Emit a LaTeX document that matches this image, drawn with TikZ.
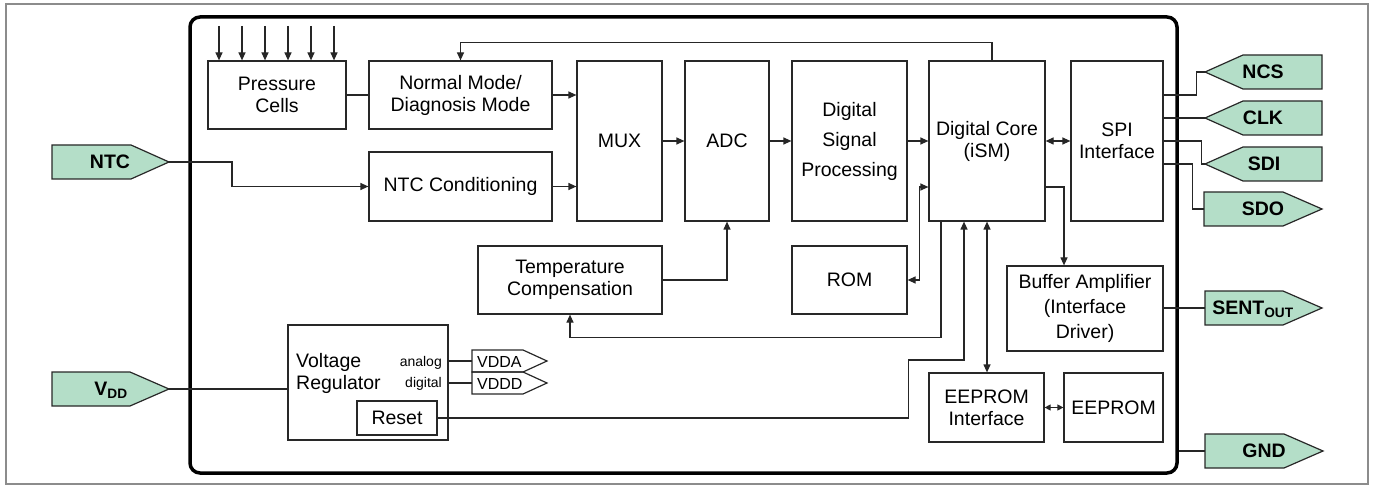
\documentclass[tikz,border=0pt]{standalone}
\usepackage{fontspec}
\setmainfont{Liberation Sans}
\usetikzlibrary{arrows.meta,calc}
\definecolor{pinfill}{RGB}{180,222,200}
\definecolor{boxline}{RGB}{40,40,40}
\definecolor{framegray}{RGB}{140,140,140}
\begin{document}
\begin{tikzpicture}[x=1pt,y=-1pt,
  blk/.style={draw=boxline,line width=1.2pt,inner sep=0pt,align=center,font=\fontsize{19.5}{22}\selectfont},
  conn/.style={line width=1.2pt,draw=black!85},
  arr/.style={conn,-{Triangle[length=8pt,width=7pt]}},
  darr/.style={conn,{Triangle[length=8pt,width=7pt]}-{Triangle[length=8pt,width=7pt]}},
  sdarr/.style={conn,{Triangle[length=6pt,width=6pt]}-{Triangle[length=6pt,width=6pt]}},
  pinshape/.style={draw=boxline,fill=pinfill,line width=1.2pt,line join=miter},
  vshape/.style={draw=boxline,line width=1.2pt,line join=miter},
  pinlbl/.style={font=\bfseries\fontsize{19.5}{22}\selectfont,inner sep=0pt},
  small/.style={font=\fontsize{14}{16}\selectfont,inner sep=0pt},
  txt/.style={font=\fontsize{19.5}{22}\selectfont,inner sep=0pt},
]
\useasboundingbox (0,0) rectangle (1375,486);
\draw[framegray,line width=1.5pt] (6,4) rectangle (1368,484);
\node[draw=black,line width=3.5pt,rounded corners=10pt,minimum width=987pt,minimum height=456pt,inner sep=0pt] (chip) at (683.5,245) {};

% blocks
\node[blk,minimum width=138pt,minimum height=68pt] (press) at (277,95) {Pressure\\Cells};
\node[blk,minimum width=183pt,minimum height=68pt] (normal) at (460.5,95) {Normal Mode/\\Diagnosis Mode};
\node[blk,minimum width=183pt,minimum height=69pt] (ntcc) at (460.5,186.5) {NTC Conditioning};
\node[blk,minimum width=85pt,minimum height=160pt] (mux) at (619.5,141) {MUX};
\node[blk,minimum width=84pt,minimum height=160pt] (adc) at (727,141) {ADC};
\node[blk,minimum width=115pt,minimum height=160pt,font=\fontsize{19.5}{30}\selectfont] (dsp) at (849.5,141) {Digital\\Signal\\Processing};
\node[blk,minimum width=116pt,minimum height=160pt] (core) at (987,141) {Digital Core\\(iSM)};
\node[blk,minimum width=92pt,minimum height=160pt] (spi) at (1117,141) {SPI\\Interface};
\node[blk,minimum width=184pt,minimum height=68pt] (temp) at (570,280) {Temperature\\Compensation};
\node[blk,minimum width=115pt,minimum height=68pt] (rom) at (849.5,280) {ROM};
\node[blk,minimum width=156pt,minimum height=85pt,font=\fontsize{19.5}{25}\selectfont] (buf) at (1085,308.5) {Buffer Amplifier\\(Interface\\Driver)};
\node[blk,minimum width=115pt,minimum height=69pt] (eei) at (986.5,407.5) {EEPROM\\Interface};
\node[blk,minimum width=99pt,minimum height=69pt] (eep) at (1113.5,407.5) {EEPROM};
\node[blk,minimum width=160pt,minimum height=115pt] (vreg) at (368,382.5) {};
\node[blk,minimum width=80pt,minimum height=34pt] (reset) at (397,418) {Reset};
\node[txt,anchor=base west] (vt1) at (296,367) {Voltage};
\node[txt,anchor=base west] (vt2) at (296,389) {Regulator};
\node[small,anchor=base east] (an) at (442,366) {analog};
\node[small,anchor=base east] (dg) at (442,387) {digital};

% VDDA / VDDD
\path[vshape] (472,350) -- (523,350) -- (547,361) -- (523,372) -- (472,372) -- cycle;
\path[vshape] (472,372) -- (523,372) -- (547,383) -- (523,394) -- (472,394) -- cycle;
\coordinate (vddaL) at (472,361);
\coordinate (vdddL) at (472,383);
\node[font=\fontsize{16}{18}\selectfont,inner sep=0pt,anchor=west] (vdda) at (477,361.5) {VDDA};
\node[font=\fontsize{16}{18}\selectfont,inner sep=0pt,anchor=west] (vddd) at (477,383.5) {VDDD};

% pins
\path[pinshape] (52,145) -- (131,145) -- (169,162) -- (131,179) -- (52,179) -- cycle;
\coordinate (ntcT) at (169,162);
\node[pinlbl] (ntc) at (110,162) {NTC};
\path[pinshape] (52,372) -- (130,372) -- (169,389) -- (130,406) -- (52,406) -- cycle;
\coordinate (vddT) at (169,389);
\node[pinlbl] (vdd) at (111,390) {V\textsubscript{DD}};
\path[pinshape] (1322,55) -- (1243,55) -- (1205,72) -- (1243,89) -- (1322,89) -- cycle;
\coordinate (ncsT) at (1205,72);
\node[pinlbl] (ncs) at (1263,72) {NCS};
\path[pinshape] (1322,101) -- (1243,101) -- (1205,118) -- (1243,135) -- (1322,135) -- cycle;
\coordinate (clkT) at (1205,118);
\node[pinlbl] (clk) at (1263,118) {CLK};
\path[pinshape] (1322,147) -- (1243,147) -- (1205,164) -- (1243,181) -- (1322,181) -- cycle;
\coordinate (sdiT) at (1205,164);
\node[pinlbl] (sdi) at (1264,164) {SDI};
\path[pinshape] (1204,192) -- (1283,192) -- (1322,209) -- (1283,226) -- (1204,226) -- cycle;
\coordinate (sdoL) at (1204,209);
\node[pinlbl] (sdo) at (1263,209) {SDO};
\path[pinshape] (1205,291) -- (1283,291) -- (1322,308) -- (1283,325) -- (1205,325) -- cycle;
\coordinate (sentL) at (1205,308);
\node[pinlbl] (sent) at (1253,309) {SENT\textsubscript{OUT}};
\path[pinshape] (1205,434) -- (1284,434) -- (1323,451) -- (1284,468) -- (1205,468) -- cycle;
\coordinate (gndL) at (1205,451);
\node[pinlbl] (gnd) at (1264,451) {GND};

% pressure inputs
\foreach \x [count=\i] in {219,242,265,288,311,334} {
  \coordinate (in\i) at (\x,26);
  \draw[arr] (in\i) -- (in\i |- press.north);
}

% connectors
\draw[conn] (press.east) -- (normal.west);
\draw[arr] (normal.east) -- (mux.west |- normal.east);
\draw[arr] (ntcc.east) -- (mux.west |- ntcc.east);
\draw[arr] (mux.east) -- (adc.west);
\draw[arr] (adc.east) -- (dsp.west);
\draw[arr] (dsp.east) -- (core.west);
\draw[darr] (core.east) -- (spi.west);
\draw[arr] ($(core.north)+(5,0)$) -- ++(0,-18) -| (normal.north);
\draw[arr] (ntcT) -- ++(63,0) |- (ntcc.west);
\draw[conn] (vddT) -- (vreg.west |- vddT);
\draw[conn] ($(spi.east)+(0,-46)$) -- ++(33,0) |- (ncsT);
\draw[conn] ($(spi.east)+(0,-23)$) -- (clkT);
\draw[conn] (spi.east) -- ++(38,0) |- (sdiT);
\draw[conn] ($(spi.east)+(0,23)$) -- ++(29,0) |- (sdoL);
\draw[arr] ($(core.east)+(0,46)$) -| ($(buf.north)+(-21,0)$);
\draw[conn] (buf.east |- sentL) -- (sentL);
\draw[conn] (chip.east |- gndL) -- (gndL);
\draw[darr] (core.south) -- (core.south |- eei.north);
\draw[sdarr] (eei.east) -- (eep.west);
\draw[arr] (reset.east) -- ++(471,0) -- ++(0,-58) -| ($(core.south)+(-23,0)$);
\draw[arr] ($(core.south)+(-46,0)$) -- ++(0,116) -| (temp.south);
\draw[darr] (rom.east) -- ++(12,0) |- ($(core.west)+(0,46)$);
\draw[arr] (temp.east) -| (adc.south);
\draw[conn] (vreg.east |- vddaL) -- (vddaL);
\draw[conn] (vreg.east |- vdddL) -- (vdddL);
\end{tikzpicture}
\end{document}
